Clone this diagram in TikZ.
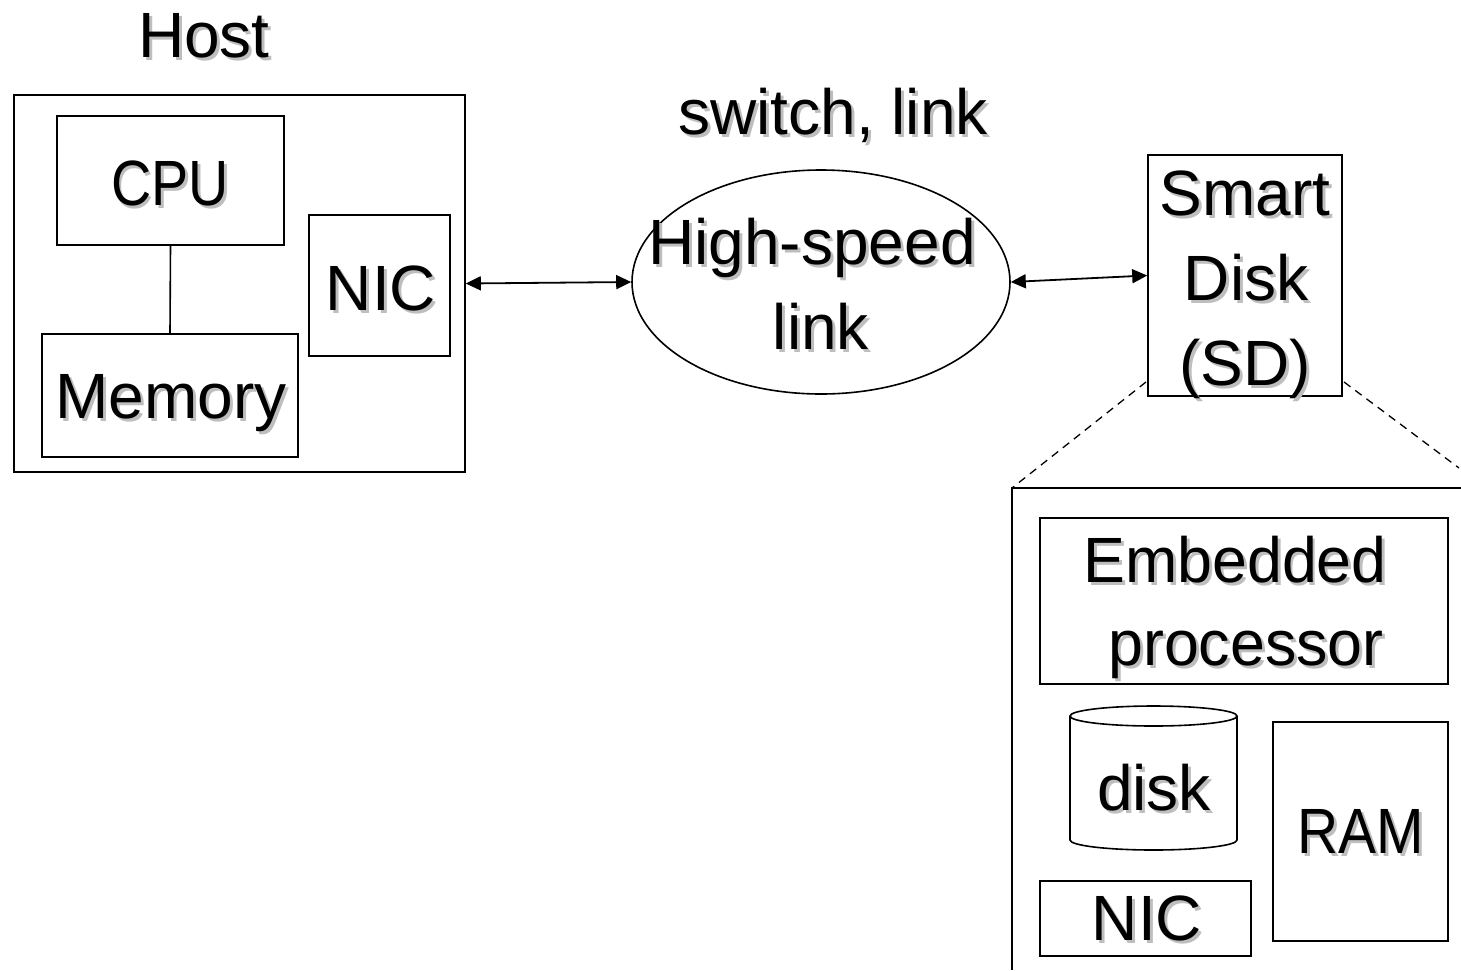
\documentclass[tikz,border=0pt]{standalone}
\usepackage{fontspec}
\setmainfont{Liberation Sans}
\usepackage{graphicx}
\usetikzlibrary{arrows.meta,shapes.geometric}
\definecolor{shgray}{RGB}{190,190,190}
\newcommand{\shd}[2][1]{\scalebox{#1}[1]{\rlap{\hspace{3pt}\raisebox{-3pt}{\textcolor{shgray}{#2}}}#2}}
\begin{document}
\begin{tikzpicture}[x=1pt,y=-1pt,
  box/.style={draw, line width=1.6pt, inner sep=0pt, rectangle},
  txt/.style={font=\fontsize{64}{72}\selectfont, inner sep=0pt, anchor=base},
  linkarrow/.style={line width=1.8pt, {Triangle[length=15pt,width=14pt]}-{Triangle[length=15pt,width=14pt]}},
  zoomline/.style={line width=1.3pt, dash pattern=on 8pt off 6pt}]
\useasboundingbox (0,0) rectangle (1461,970);

% Host
\node[txt] (hostlbl) at (204,57) {\shd{Host}};
\node[box, minimum width=451pt, minimum height=377pt] (host) at (239.5,283.5) {};
\node[box, minimum width=227pt, minimum height=129pt] (cpu) at (170.5,180.5) {};
\node[box, minimum width=141pt, minimum height=141pt] (nic) at (379.5,285.5) {};
\node[box, minimum width=256pt, minimum height=123pt] (mem) at (170,395.5) {};
\node[txt] (cpulbl) at (170,205) {\shd[0.87]{CPU}};
\node[txt] (niclbl) at (381,310) {\shd{NIC}};
\node[txt] (memlbl) at (171,418) {\shd{Memory}};
\draw[line width=1.6pt] (cpu.south) -- (mem.north);

% Link
\node[txt] (swlbl) at (833,134) {\shd{switch, link}};
\node[draw, ellipse, line width=1.6pt, inner sep=0pt, minimum width=378pt, minimum height=224pt] (hsl) at (821,282) {};
\node[txt] (hs1) at (812,264) {\shd{High-speed}};
\node[txt] (hs2) at (821,349) {\shd{link}};

% Smart disk
\node[box, minimum width=194pt, minimum height=241pt] (sd) at (1245,275.5) {};
\node[txt] (sd1) at (1245,215) {\shd{Smart}};
\node[txt] (sd2) at (1246,300) {\shd{Disk}};
\node[txt] (sd3) at (1245,385) {\shd{(SD)}};

\draw[linkarrow] (host.east) -- (hsl.west);
\draw[linkarrow] (hsl.east) -- (sd.west);

% Detail view
\coordinate (sdl) at (1146,382);
\coordinate (sdr) at (1344,382);
\coordinate (dtl) at (1012,488);
\coordinate (dtr) at (1461,488);
\coordinate (dbl) at (1012,970);
\coordinate (dre) at (1459,468);
\draw[zoomline] (sdl) -- (dtl);
\draw[zoomline] (sdr) -- (dre);
\draw[line width=1.6pt] (dtr) -- (dtl) -- (dbl);

\node[box, minimum width=408pt, minimum height=166pt] (emb) at (1244,601) {};
\node[txt] (emb1) at (1235,582) {\shd[0.98]{Embedded}};
\node[txt] (emb2) at (1246,665) {\shd[0.98]{processor}};

\draw[line width=1.6pt] (1153.5,716) ellipse [x radius=83.5pt, y radius=10pt];
\draw[line width=1.6pt] (1070,716) -- (1070,840) arc[start angle=180, end angle=360, x radius=83.5pt, y radius=10pt] -- (1237,716);
\node[txt] (disklbl) at (1154,810) {\shd{disk}};

\node[box, minimum width=175pt, minimum height=219pt] (ram) at (1360.5,831.5) {};
\node[txt] (ramlbl) at (1361,853) {\shd[0.89]{RAM}};

\node[box, minimum width=211pt, minimum height=75pt] (nic2) at (1145.5,918.5) {};
\node[txt] (nic2lbl) at (1147,940) {\shd{NIC}};
\end{tikzpicture}
\end{document}
